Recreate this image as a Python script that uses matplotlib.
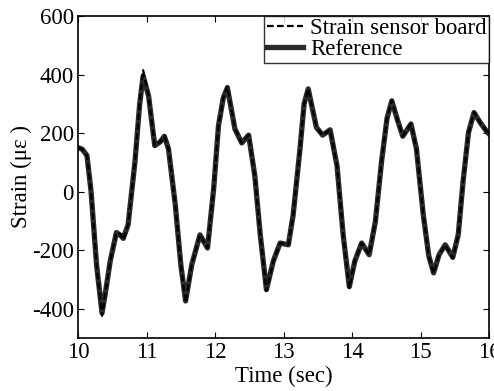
import numpy as np
import matplotlib
matplotlib.use('Agg')
import matplotlib.pyplot as plt

plt.rcParams['font.family'] = ['Liberation Serif', 'DejaVu Serif']
plt.rcParams['axes.unicode_minus'] = False

# values
time = [10.00, 10.06, 10.13, 10.19, 10.27, 10.35, 10.41, 10.47, 10.56, 10.62, 10.66,
        10.73, 10.83, 10.90, 10.95, 11.03, 11.12, 11.20, 11.26, 11.32, 11.42, 11.50,
        11.57, 11.66, 11.78, 11.89, 11.98, 12.05, 12.12, 12.18, 12.29, 12.39, 12.49,
        12.58, 12.66, 12.75, 12.85, 12.95, 13.07, 13.14, 13.24, 13.30, 13.36, 13.48,
        13.57, 13.68, 13.78, 13.87, 13.96, 14.04, 14.14, 14.25, 14.34, 14.43, 14.51,
        14.58, 14.66, 14.74, 14.86, 14.94, 15.04, 15.12, 15.19, 15.27, 15.36, 15.47,
        15.55, 15.62, 15.70, 15.78, 15.87, 15.97, 16.00]
strain_ref = [150, 145, 123, 0, -250, -415, -330, -237, -140, -150, -160,
              -114, 100, 300, 395, 326, 157, 170, 189, 146, -46, -250,
              -374, -250, -148, -193, 10, 225, 320, 355, 214, 166, 193,
              55, -148, -335, -238, -176, -182, -80, 146, 300, 351, 219,
              193, 211, 89, -148, -325, -238, -176, -216, -103, 101, 250,
              310, 247, 189, 231, 146, -80, -220, -278, -216, -182, -225,
              -148, 33, 202, 270, 236, 204, 197]
strain_board = [150, 145, 123, 0, -250, -425, -330, -237, -140, -145, -165,
                -114, 100, 300, 415, 326, 157, 170, 189, 146, -46, -250,
                -380, -250, -148, -193, 10, 225, 320, 360, 214, 166, 193,
                55, -148, -340, -238, -176, -182, -80, 146, 300, 351, 219,
                193, 211, 89, -148, -330, -238, -176, -216, -103, 101, 250,
                312, 247, 189, 231, 146, -80, -220, -280, -216, -182, -228,
                -148, 33, 202, 272, 236, 204, 197]

fig = plt.figure(figsize=(4.94, 3.91), dpi=100)
ax = fig.add_axes([0.158, 0.136, 0.832, 0.823])

ax.plot(time, strain_ref, color='#2a2a2a', lw=3.8, label='Reference', zorder=2)
ax.plot(time, strain_board, color='black', lw=1.6, ls=(0, (3, 1.5)),
        label='Strain sensor board', zorder=3)

ax.set_xlim(10, 16)
ax.set_ylim(-500, 600)
ax.set_xticks(np.arange(10, 17, 1))
ax.set_yticks(np.arange(-400, 601, 200))
ax.tick_params(direction='in', top=True, right=True, labelsize=16.5, length=4, pad=3)
for s in ax.spines.values():
    s.set_linewidth(1.2)

ax.set_xlabel('Time (sec)', fontsize=16.5, labelpad=2)
ax.set_ylabel('Strain (με )', fontsize=16.5, labelpad=0)

h, l = ax.get_legend_handles_labels()
leg = ax.legend(h[::-1], l[::-1], loc='upper right', fontsize=16.5, frameon=True,
                fancybox=False, borderaxespad=0, handlelength=1.6, handletextpad=0.3,
                borderpad=0.1, labelspacing=0.0)
leg.get_frame().set_edgecolor('black')
leg.get_frame().set_linewidth(1.0)

fig.savefig('out.png', dpi=100)
